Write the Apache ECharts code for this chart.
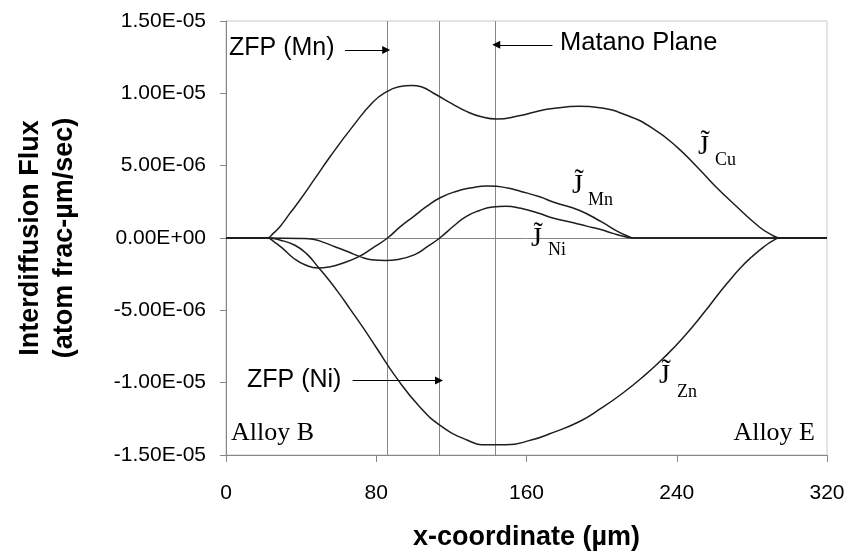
<!DOCTYPE html>
<html>
<head>
<meta charset="utf-8">
<script src="https://cdn.jsdelivr.net/npm/echarts@6/dist/echarts.min.js"></script>
<style>html,body{margin:0;padding:0;background:#fff}#c{width:863px;height:559px}</style>
</head>
<body>
<div id="c"></div>
<script>
// x positions (µm) and fluxes (units of 1e-6 atom frac-µm/sec)
var xCu = [0, 20, 22, 25, 28.7, 34, 38.4, 47.3, 55.3, 67.7, 78.3, 85.4, 92, 99, 104, 112, 120, 128, 136, 144, 156, 167, 174, 188, 199, 213, 227, 240, 252, 260, 270, 284, 290, 295.4, 298, 320];
var yCu = [0, 0, 0, 0.3, 0.78, 1.7, 2.45, 4.1, 5.6, 7.75, 9.4, 10.1, 10.45, 10.55, 10.45, 9.9, 9.3, 8.75, 8.38, 8.22, 8.45, 8.8, 8.95, 9.1, 9.0, 8.5, 7.6, 6.3, 4.75, 3.65, 2.4, 0.76, 0.25, 0, 0, 0];

var xMn = [0, 20, 22, 26, 30, 36, 42, 49, 55, 62, 71, 78, 86, 93, 100, 107, 114, 122, 131, 139, 144, 150, 157, 167, 175, 188, 200, 209, 215, 217, 219, 320];
var yMn = [0, 0, 0, -0.3, -0.7, -1.4, -1.85, -2.08, -2.0, -1.75, -1.27, -0.7, 0, 0.8, 1.5, 2.2, 2.78, 3.2, 3.48, 3.6, 3.57, 3.45, 3.22, 2.85, 2.45, 1.92, 1.11, 0.42, 0.07, 0, 0, 0];

var xNi = [0, 22, 40, 47, 52, 58, 65, 71, 77.5, 85, 91.6, 100.5, 107, 113.8, 121.7, 128, 135, 142, 149, 157, 167, 174, 185, 192, 199, 206, 212, 216, 218, 320];
var yNi = [0, 0, -0.03, -0.1, -0.3, -0.6, -0.95, -1.27, -1.5, -1.55, -1.48, -1.15, -0.62, 0, 0.88, 1.5, 1.9, 2.15, 2.2, 2.05, 1.69, 1.38, 1.05, 0.82, 0.6, 0.32, 0.1, 0, 0, 0];

var xZn = [0, 20, 22, 29, 36.7, 43, 49, 55, 60.6, 66, 73, 80, 90.7, 103, 114, 128, 139, 149, 163, 172, 188, 200, 211, 222, 232.5, 243, 255.5, 262, 268, 274, 280, 286, 291, 295, 297, 320];
var yZn = [0, 0, 0, -0.15, -0.5, -1.1, -2.0, -2.94, -3.9, -4.9, -6.2, -7.57, -9.65, -11.65, -12.95, -13.95, -14.3, -14.3, -13.95, -13.55, -12.7, -11.75, -10.75, -9.6, -8.35, -6.95, -5.0, -3.9, -2.95, -2.05, -1.3, -0.65, -0.2, 0, 0, 0];

// reference planes (µm)
var zfpMn = 85.7;
var zfpNi = 113.8;
var matano = 143.5;

var xTicks = [0, 80, 160, 240, 320];
var yTicks = [-15, -10, -5, 0, 5, 10, 15];

function pairs(xs, ys) { return xs.map(function (x, i) { return [x, ys[i]]; }); }

function fmtE(v) {
  var val = v * 1e-6;
  if (Math.abs(v) < 1e-9) return '0.00E+00';
  var s = val.toExponential(2).toUpperCase();
  var m = s.split('E');
  var exp = parseInt(m[1], 10);
  var sign = exp < 0 ? '-' : '+';
  var a = Math.abs(exp);
  return m[0] + 'E' + sign + (a < 10 ? '0' + a : '' + a);
}

var SANS = '"Liberation Sans", Arial, sans-serif';
var SERIF = '"Liberation Serif", "Times New Roman", serif';
var lineCol = '#1e1e1e';
var greyCol = '#868686';

function curve(name, xs, ys) {
  return {
    name: name, type: 'line', data: pairs(xs, ys), smooth: 0.5,
    showSymbol: false, symbol: 'none', silent: true,
    lineStyle: { color: lineCol, width: 1.5 }, z: 5
  };
}

var arrowStyle = { color: '#000', width: 1.2, type: 'solid' };

var chart = echarts.init(document.getElementById('c'));
var series = [
  curve('Cu', xCu, yCu),
  curve('Mn', xMn, yMn),
  curve('Ni', xNi, yNi),
  curve('Zn', xZn, yZn),
  {
    name: 'refs', type: 'line', data: [], silent: true, z: 3,
    markLine: {
      silent: true, symbol: 'none', animation: false,
      label: { show: false },
      lineStyle: { color: greyCol, width: 1, type: 'solid' },
      data: [
        { yAxis: 0 },
        { xAxis: zfpMn },
        { xAxis: zfpNi },
        { xAxis: matano }
      ]
    }
  },
  {
    name: 'arrows', type: 'line', data: [], silent: true, z: 6,
    markLine: {
      silent: true, animation: false, symbol: ['none', 'triangle'], symbolSize: 8,
      label: { show: false },
      lineStyle: arrowStyle,
      data: [
        [{ coord: [63.3, 13.0] }, { coord: [zfpMn - 0.4, 13.0] }],
        [{ coord: [173.8, 13.35] }, { coord: [matano + 0.4, 13.35] }],
        [{ coord: [67.4, -9.85] }, { coord: [zfpNi - 0.4, -9.85] }]
      ]
    }
  }
];

function jLabel(cx, cy, sub, subLeft, subCy) {
  return [
    { type: 'text', left: cx - 8, top: cy - 12, z: 20,
      style: { text: 'J\u0303', font: '28px ' + SERIF, fill: '#000' } },
    { type: 'text', left: subLeft, top: subCy - 8, z: 20,
      style: { text: sub, font: '18px ' + SERIF, fill: '#000' } }
  ];
}

var graphics = [
  { type: 'text', left: 229, top: 36, z: 20, style: { text: 'ZFP (Mn)', font: '25px ' + SANS, fill: '#000' } },
  { type: 'text', left: 560, top: 30, z: 20, style: { text: 'Matano Plane', font: '25.5px ' + SANS, fill: '#000' } },
  { type: 'text', left: 247, top: 368, z: 20, style: { text: 'ZFP (Ni)', font: '25px ' + SANS, fill: '#000' } },
  { type: 'text', left: 231, top: 420, z: 20, style: { text: 'Alloy B', font: '26px ' + SERIF, fill: '#000' } },
  { type: 'text', right: 863 - 815, top: 420, z: 20, style: { text: 'Alloy E', font: '26px ' + SERIF, fill: '#000' } }
].concat(
  jLabel(706, 145, 'Cu', 715, 159),
  jLabel(580, 184, 'Mn', 588, 199),
  jLabel(539, 237, 'Ni', 548, 249),
  jLabel(667, 374, 'Zn', 677, 391)
);

chart.setOption({
  animation: false,
  backgroundColor: '#fff',
  grid: { left: 226, right: 36, top: 21, bottom: 104, show: true, borderColor: '#c8c8c8', borderWidth: 1, backgroundColor: 'transparent' },
  xAxis: {
    type: 'value', min: xTicks[0], max: xTicks[xTicks.length - 1], interval: 80,
    name: 'x-coordinate (µm)', nameLocation: 'middle', nameGap: 69,
    nameTextStyle: { fontFamily: SANS, fontSize: 27, fontWeight: 'bold', color: '#000' },
    axisLine: { onZero: false, lineStyle: { color: greyCol, width: 1 } },
    axisTick: { show: true, length: 7, inside: false, lineStyle: { color: greyCol } },
    axisLabel: { margin: 28, fontFamily: SANS, fontSize: 21, color: '#000' },
    splitLine: { show: false }
  },
  yAxis: {
    type: 'value', min: yTicks[0], max: yTicks[yTicks.length - 1], interval: 5,
    name: 'Interdiffusion Flux\n(atom frac-µm/sec)', nameLocation: 'middle', nameGap: 144, nameRotate: 90,
    nameTextStyle: { fontFamily: SANS, fontSize: 27, fontWeight: 'bold', color: '#000', lineHeight: 34 },
    axisLine: { onZero: false, lineStyle: { color: greyCol, width: 1 } },
    axisTick: { show: true, length: 6, inside: false, lineStyle: { color: greyCol } },
    axisLabel: { margin: 20, fontFamily: SANS, fontSize: 21, color: '#000', formatter: fmtE },
    splitLine: { show: false }
  },
  series: series,
  graphic: graphics
});
</script>
</body>
</html>
